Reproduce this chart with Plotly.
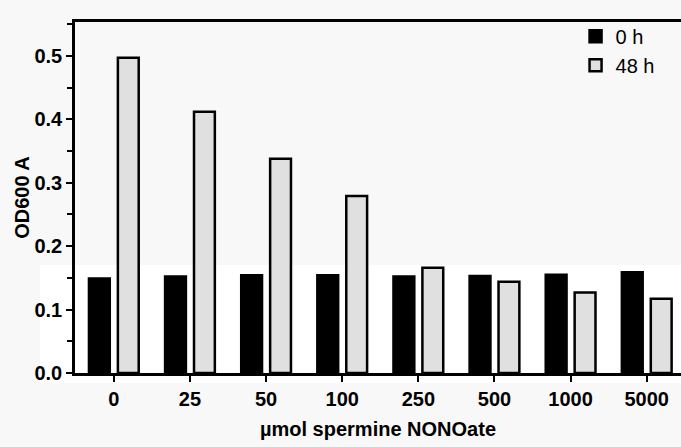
import plotly.graph_objects as go

categories = ["0", "25", "50", "100", "250", "500", "1000", "5000"]
od_0h = [0.149, 0.152, 0.154, 0.154, 0.152, 0.153, 0.155, 0.159]
od_48h = [0.497, 0.412, 0.338, 0.279, 0.166, 0.144, 0.127, 0.117]
series_names = ["0 h", "48 h"]
y_title = "OD600 A"
x_title = "µmol spermine NONOate"

BG = "#f8f8f8"
FONT = "Liberation Sans, Arial, sans-serif"

fig = go.Figure()
fig.add_trace(go.Bar(
    x=categories, y=od_0h, name=series_names[0],
    marker=dict(color="#000000", line=dict(color="#000000", width=2.5)),
))
fig.add_trace(go.Bar(
    x=categories, y=od_48h, name=series_names[1],
    marker=dict(color="#e0e0e0", line=dict(color="#000000", width=2.5)),
))

# faint white patch in the lower part of the image (scan artefact)
fig.add_shape(type="rect", xref="paper", yref="paper",
              x0=-35/606, x1=1.0, y0=-10/351, y1=108/351,
              fillcolor="#ffffff", line=dict(width=0), layer="below")

fig.update_layout(
    width=681, height=447,
    margin=dict(l=75, r=0, t=22, b=74),
    paper_bgcolor=BG, plot_bgcolor="rgba(0,0,0,0)",
    barmode="group", bargap=0.24, bargroupgap=0.28,
    font=dict(family=FONT, color="#000000"),
    legend=dict(x=0.826, y=1.015, xanchor="left", yanchor="top",
                bgcolor="rgba(0,0,0,0)", font=dict(size=20, family=FONT),
                tracegroupgap=0, itemwidth=30),
    showlegend=True,
)
fig.update_xaxes(
    range=[-0.51, 7.45], showline=True, linecolor="#000000", linewidth=2.5,
    mirror=True, ticks="outside", ticklen=6, tickwidth=2, tickcolor="#000000",
    tickfont=dict(size=20, family=FONT, weight="bold"),
    showgrid=False, zeroline=False,
    title=dict(text=x_title, font=dict(size=20, family=FONT, weight="bold"), standoff=14),
)
fig.update_yaxes(
    range=[0, 0.5535], dtick=0.1, tickformat=".1f",
    showline=True, linecolor="#000000", linewidth=2.5,
    ticks="outside", ticklen=6, tickwidth=2, tickcolor="#000000",
    minor=dict(dtick=0.05, ticks="outside", ticklen=5, tickwidth=2, tickcolor="#000000", showgrid=False),
    tickfont=dict(size=20, family=FONT, weight="bold"),
    showgrid=False, zeroline=False,
    title=dict(text=y_title, font=dict(size=20, family=FONT, weight="bold"), standoff=0),
)

fig.write_html("out.html", config={"displayModeBar": False},
               post_script="document.body.style.margin='0';document.body.style.overflow='hidden';")
